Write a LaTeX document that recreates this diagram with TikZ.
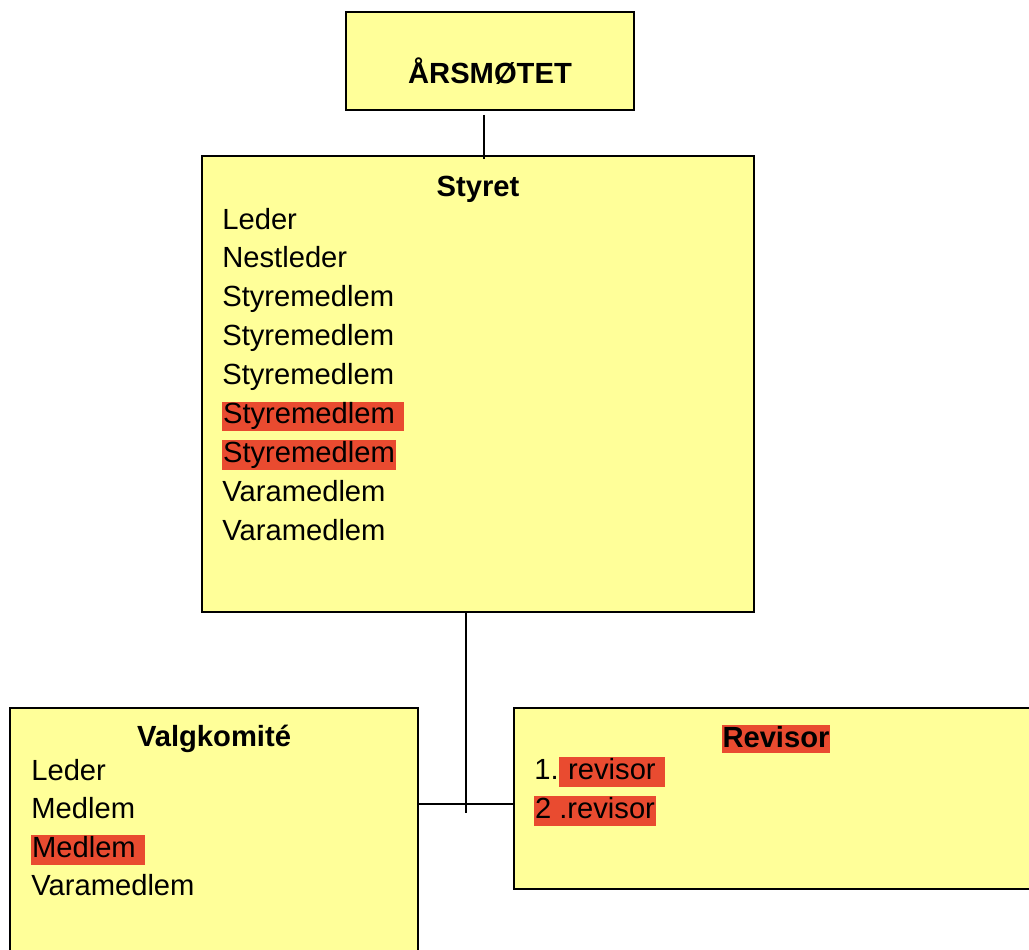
\documentclass[tikz,border=0pt]{standalone}
\usepackage{fontspec}
\setmainfont{Liberation Sans}
\usetikzlibrary{positioning}
\definecolor{boxyellow}{RGB}{255,255,153}
\definecolor{markred}{RGB}{233,75,48}
\newcommand\chartfont{\fontsize{16.6}{20}\selectfont}
\tikzset{
  orgbox/.style={draw,line width=1.1pt,fill=boxyellow,inner sep=0pt},
  item/.style={anchor=base west,inner sep=0pt},
  title/.style={anchor=base,inner sep=0pt,font=\chartfont\bfseries},
  hl/.style={fill=markred,text height=12.5pt,text depth=4.4pt,inner xsep=0.4pt,inner ysep=0pt},
  link/.style={line width=0.8pt}
}

\begin{document}
\begin{tikzpicture}[x=0.02cm,y=-0.02cm,font=\chartfont]
\clip (0,0) rectangle (1029,950);
\node[orgbox,minimum width=5.76cm,minimum height=1.96cm] (aars) at (490,61) {};
\node[orgbox,minimum width=11.04cm,minimum height=9.12cm] (styret) at (478,384) {};
\node[orgbox,minimum width=8.16cm,minimum height=5.2cm] (valg) at (214,838) {};
\node[orgbox,minimum width=10.48cm,minimum height=3.62cm] (rev) at (776,798.5) {};

\draw[link] ([shift={(-6,4)}]aars.south) -- ([shift={(-6,4)}]aars.south |- styret.north);
\draw[link] ([shift={(-12,0)}]styret.south) -- ++(0,200);
\draw[link] (valg.east |- 0,804) -- (rev.west |- 0,804);

\node[title] (aarstitle) at (aars.center |- 0,83) {ÅRSMØTET};
\node[title] (styrettitle) at (styret.center |- 0,196) {Styret};
\node[title] (valgtitle) at (valg.center |- 0,746) {Valgkomité};
\node[title,hl,text depth=3.4pt] (revtitle) at (rev.center |- 0,747) {Revisor};

\foreach \i/\t in {0/Leder,1/Nestleder,2/Styremedlem,3/Styremedlem,4/Styremedlem,7/Varamedlem,8/Varamedlem}
  \node[item] (s\i) at (222,229+38.9*\i) {\t};
\node[item,hl] (s5) at (222,423.5) {Styremedlem\ \mbox{}};
\node[item,hl] (s6) at (222,462.4) {Styremedlem};

\foreach \i/\t in {0/Leder,1/Medlem,3/Varamedlem}
  \node[item] (v\i) at (31,780+38.5*\i) {\t};
\node[item,hl] (v2) at (31,857) {Medlem\ \mbox{}};

\node[item] (r1) at (534,779) {1.};
\node[item,hl] (r1b) at (r1.base east) {\ revisor\ \mbox{}};
\node[item,hl] (r2) at (534,818) {2 .revisor};
\end{tikzpicture}
\end{document}
